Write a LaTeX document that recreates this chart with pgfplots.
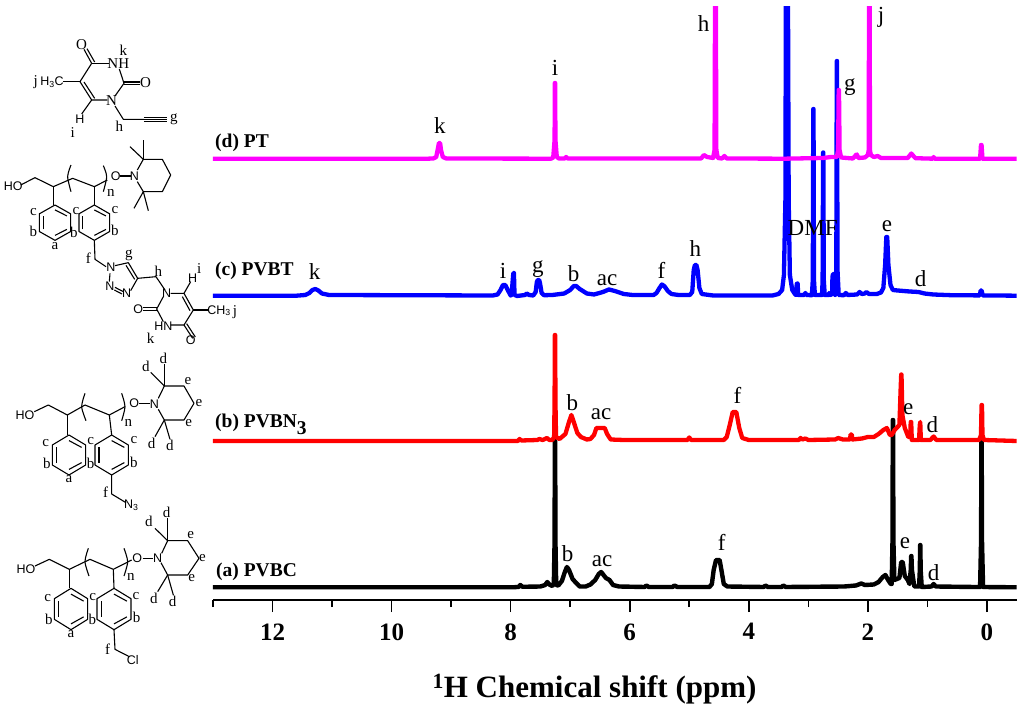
\documentclass[border=0pt]{standalone}
\usepackage{fontspec}
\setmainfont{Liberation Serif}
\newfontfamily\arial{Liberation Sans}
\usepackage{pgfplots}
\usepackage{pgfplotstable}
\pgfplotsset{compat=1.18}

\definecolor{specpink}{RGB}{255,0,255}
\definecolor{specblue}{RGB}{0,0,255}
\definecolor{specred}{RGB}{255,0,0}

% y values: height above the axis line, in picture units
\pgfplotstableread{
x y
13 12.7
7.95 12.7
7.86 13.2
7.84 15
7.80 13.2
7.5 13.5
7.42 15
7.385 18
7.35 15.5
7.30 14
7.275 16
7.262 60
7.258 159
7.252 159
7.248 60
7.235 15
7.20 14.5
7.14 19
7.09 28
7.055 33
7.02 30
6.96 21
6.90 17
6.84 13.5
6.74 13.5
6.66 15.5
6.58 20
6.52 26
6.48 28
6.44 25
6.40 22
6.34 20
6.28 15
6.18 13.5
5.75 13
5.72 14.5
5.68 13
5.28 13
5.25 14.5
5.2 13
4.66 13
4.62 16
4.59 30
4.55 40
4.49 40
4.46 30
4.42 16
4.36 13.5
3.75 13
3.72 14.5
3.68 13
3.45 13
3.42 14.5
3.38 13
2.4 13.5
2.2 14.5
2.11 16.5
2.05 15
1.9 15.5
1.82 18
1.75 23
1.705 25
1.66 20
1.615 16
1.6 16
1.586 60
1.581 180
1.576 180
1.571 60
1.555 20
1.47 22
1.44 38
1.415 38
1.38 24
1.33 20
1.3 16
1.28 30
1.272 44
1.268 44
1.26 30
1.22 13.5
1.14 13.5
1.127 30
1.122 55
1.118 55
1.113 30
1.095 13
0.93 13.5
0.895 16
0.86 13.5
0.2 13
0.115 13
0.098 60
0.093 159
0.088 159
0.083 60
0.065 13
-0.5 12.7
}\tblPVBC

\pgfplotstableread{
x y
13 159
7.88 159
7.85 161
7.82 159.5
7.55 160
7.52 161
7.46 160
7.39 162
7.35 160
7.30 160
7.27 163
7.262 200
7.258 265
7.252 265
7.248 200
7.238 163
7.18 161
7.08 166
7.02 178
6.98 185
6.94 178
6.88 167
6.82 163
6.72 160.5
6.66 161
6.60 165
6.56 172
6.50 172
6.42 172
6.38 166
6.32 160.5
6.1 160
5.03 160
5.0 162.5
4.97 160
4.42 160
4.37 163
4.32 175
4.27 188
4.21 188
4.16 172
4.11 162
4.0 160
3.16 160
3.13 162
3.10 160.5
3.05 161.5
3.0 160
2.55 160.5
2.5 162
2.42 160.5
2.3 160.5
2.29 165.5
2.27 165.5
2.26 160.5
2.1 161.5
2.0 163
1.9 163
1.82 166
1.74 170
1.68 172
1.63 165
1.6 165
1.55 170
1.47 175
1.45 210
1.44 225.5
1.435 225.5
1.42 185
1.38 172
1.32 163
1.29 163
1.28 178
1.272 178
1.262 160
1.14 160
1.128 175
1.12 178
1.11 160
0.95 160
0.895 163.5
0.85 160
0.13 160
0.1 165
0.09 195
0.083 195
0.075 165
0.05 160
-0.5 159
}\tblPVBN

\pgfplotstableread{
x y
13 304.3
11.6 304.3
11.45 305
11.38 307
11.33 310
11.28 311
11.23 309.5
11.17 306.5
11.05 305
8.3 304.5
8.22 305.5
8.17 310
8.13 315
8.09 315
8.05 310
8.0 304.5
7.985 305
7.965 320
7.955 327
7.945 327
7.935 305
7.89 304
7.76 305
7.73 306.5
7.69 305
7.62 304.5
7.58 308
7.56 318
7.545 320
7.52 320
7.505 316
7.48 307
7.44 304.8
7.30 305
7.1 306.5
7.0 310
6.94 314
6.9 314
6.84 311
6.72 306.5
6.6 305.5
6.45 308
6.35 310.5
6.25 309
6.1 306
5.95 305
5.6 305
5.55 307
5.5 312
5.46 315.5
5.42 314
5.36 309
5.3 306
5.18 305
4.99 305
4.95 308
4.925 330
4.905 335
4.88 335
4.86 330
4.83 312
4.79 306
4.6 304.5
3.6 304.5
3.5 306
3.44 310
3.41 325
3.385 400
3.375 660
3.345 660
3.33 400
3.31 325
3.27 310
3.22 305.5
3.205 305
3.195 316
3.188 316.5
3.18 316.5
3.17 305
3.07 305
3.05 307
3.03 305
2.94 304.8
2.925 320
2.917 491
2.913 491
2.905 320
2.89 305
2.77 305
2.76 320
2.752 447.5
2.748 447.5
2.74 320
2.725 305
2.66 305
2.65 307
2.63 305
2.6 306
2.595 323
2.585 326
2.57 326
2.55 305
2.53 330
2.522 539
2.518 539
2.51 330
2.49 305
2.4 304.8
2.37 307
2.34 305
2.18 305.5
2.14 308
2.1 306
2.05 306.5
2.025 308
1.98 306
1.85 306
1.78 307.5
1.74 312
1.71 335
1.69 363
1.675 363
1.655 335
1.62 315
1.58 310
1.5 309.5
1.3 308.5
1.15 308
1.05 306.5
0.9 305.5
0.6 304.8
0.12 304.6
0.105 309.5
0.09 309.5
0.07 304.6
-0.5 304.3
}\tblPVBT

\pgfplotstableread{
x y
13 441.3
9.4 441.3
9.3 441.5
9.25 443
9.22 452
9.205 457
9.185 457
9.17 450
9.14 443
9.08 441.5
7.32 441.3
7.285 442.5
7.262 460
7.258 517
7.252 517
7.248 460
7.225 443
7.19 441.5
7.09 441.5
7.07 443
7.04 441.5
4.80 441.5
4.755 445
4.70 443
4.60 442
4.575 450
4.565 640
4.555 640
4.545 450
4.52 442
4.45 441.5
4.41 444
4.37 441.5
3.4 441.3
2.75 442
2.62 443
2.52 443
2.5 450
2.49 510
2.485 510
2.475 450
2.45 442.5
2.25 441.5
2.2 445
2.185 445.5
2.16 442
2.05 442.5
2.0 445
1.985 450
1.98 640
1.97 640
1.965 450
1.95 445
1.9 443
1.835 444
1.78 442
1.33 442
1.29 445
1.27 446.5
1.25 445
1.2 441.8
0.91 441.3
0.895 443
0.88 441.3
0.115 441.3
0.1 455
0.09 455
0.075 441.3
-0.5 441.3
}\tblPT

% structure drawing helpers, in units of a third of a picture pixel
\pgfplotsset{bond/.style={black,line width=1.1pt,line join=round,no markers,forget plot}}
\newcommand{\bd}[1]{\addplot[bond] coordinates {#1};}
\newcommand{\paren}[1]{\addplot[bond,smooth] coordinates {#1};}
\newcommand{\ring}[4]{%
  \pgfmathsetmacro{\xl}{#1-#3}\pgfmathsetmacro{\xr}{#1+#3}%
  \pgfmathsetmacro{\yt}{#2-#4}\pgfmathsetmacro{\yb}{#2+#4}%
  \pgfmathsetmacro{\yu}{#2-#4/2}\pgfmathsetmacro{\yd}{#2+#4/2}%
  \addplot[bond] coordinates {(#1,\yt)(\xr,\yu)(\xr,\yd)(#1,\yb)(\xl,\yd)(\xl,\yu)(#1,\yt)};%
  \pgfmathsetmacro{\xli}{#1-0.76*#3}\pgfmathsetmacro{\xri}{#1+0.76*#3}%
  \pgfmathsetmacro{\yui}{#2-0.72*#4}\pgfmathsetmacro{\ydi}{#2+0.72*#4}%
  \pgfmathsetmacro{\yum}{#2-0.38*#4}\pgfmathsetmacro{\ydm}{#2+0.38*#4}%
  \addplot[bond] coordinates {(#1,\yui)(\xri,\yum)};%
  \addplot[bond] coordinates {(\xri,\ydm)(#1,\ydi)};%
  \addplot[bond] coordinates {(\xli,\ydm)(\xli,\yum)};}
\newcommand{\lb}[3]{\node[inner sep=0pt,font=\fontsize{15}{15}\selectfont] at (axis cs:#1,#2) {#3};}
\newcommand{\at}[3]{\node[inner sep=0pt,font=\arial\fontsize{12.5}{14}\selectfont] at (axis cs:#1,#2) {#3};}
\newcommand{\pk}[3]{\node[inner sep=0pt,anchor=base,font=\fontsize{23}{23}\selectfont] at (axis cs:#1,#2) {#3};}
\newcommand{\name}[3]{\node[inner sep=0pt,anchor=base west,font=\bfseries\fontsize{19.5}{20}\selectfont] at (axis cs:#1,#2) {#3};}

\begin{document}
\begin{tikzpicture}
\path[use as bounding box] (-213pt,-111pt) rectangle (811pt,600pt);
\begin{axis}[
  at={(0pt,0pt)},anchor=south west,
  scale only axis,width=803.7pt,height=593pt,
  xmin=-0.5,xmax=13,ymin=0,ymax=593,
  x dir=reverse,
  axis x line*=bottom,axis y line=none,
  axis line style={line width=1.7pt},
  xtick={0,2,...,12},minor xtick={1,3,...,13},
  tick style={black,line width=1.6pt},
  major tick length=12pt,minor tick length=7pt,
  tick align=outside,
  tick label style={font=\bfseries\fontsize{25}{25}\selectfont},
  /pgf/number format/assume math mode=true,
  xticklabel style={yshift=-8pt},
  xlabel={\textsuperscript{1}H Chemical shift (ppm)},
  xlabel style={font=\bfseries\fontsize{31}{31}\selectfont,
    at={(axis description cs:0.4747,-0.1185)},anchor=north},
  no markers,
  every axis plot/.append style={line join=round,line cap=round},
]
\addplot[black,line width=4.4pt] table {\tblPVBC};
\addplot[specred,line width=4.3pt] table {\tblPVBN};
\addplot[specblue,line width=4.3pt] table {\tblPVBT};
\addplot[specpink,line width=4.3pt] table {\tblPT};
\end{axis}

\begin{axis}[
  at={(-213pt,-111pt)},anchor=south west,
  scale only axis,width=1024pt,height=711pt,
  xmin=0,xmax=3072,ymin=0,ymax=2133,y dir=reverse,
  hide axis,clip=false,
]
% series names
\name{645}{442}{(d) PT}
\name{645}{826}{(c) PVBT}
\name{645}{1283}{(b) PVBN\raisebox{-7pt}{3}}
\name{648}{1728}{(a) PVBC}
% peak assignments
\pk{1320}{402}{k}
\pk{1665}{228}{i}
\pk{2111}{95}{h}
\pk{2643}{67}{j}
\pk{2550}{272}{g}
\pk{944}{838}{k}
\pk{1509}{835}{i}
\pk{1614}{818}{g}
\pk{1721}{843}{b}
\pk{1821}{855}{ac}
\pk{1984}{835}{f}
\pk{2086}{768}{h}
\pk{2438}{706}{DMF}
\pk{2661}{693}{e}
\pk{2762}{858}{d}
\pk{1717}{1230}{b}
\pk{1803}{1258}{ac}
\pk{2212}{1210}{f}
\pk{2725}{1242}{e}
\pk{2797}{1298}{d}
\pk{1703}{1685}{b}
\pk{1806}{1700}{ac}
\pk{2165}{1652}{f}
\pk{2715}{1645}{e}
\pk{2801}{1740}{d}

% thymine (d)
\bd{(275,190)(328,190)}
\bd{(275,190)(240,245)(275,300)(322,300)}
\bd{(284,295)(252,246)}
\bd{(275,190)(252,148)}
\bd{(284,186)(261,146)}
\bd{(358,207)(372,250)(345,288)}
\bd{(372,246)(420,246)}
\bd{(372,254)(420,254)}
\bd{(240,245)(190,245)}
\bd{(275,300)(245,342)}
\bd{(345,318)(370,358)(432,358)}
\bd{(432,352)(500,352)}
\bd{(432,358)(500,358)}
\bd{(432,364)(500,364)}
\lb{245}{133}{O}\lb{437}{248}{O}\lb{355}{190}{NH}\lb{335}{303}{N}
\at{156}{247}{H\textsubscript{3}C}\lb{107}{245}{j}\at{240}{358}{H}
\lb{218}{397}{i}\lb{358}{380}{h}\lb{370}{150}{k}\lb{522}{358}{g}

% PVBT (c)
\bd{(62,555)(105,533)(160,560)(218,535)(283,560)(322,540)}
\paren{(213,495)(203,530)(213,575)}
\paren{(310,497)(320,530)(310,575)}
\bd{(360,528)(392,528)}
\bd{(412,510)(430,478)(487,478)(512,525)(487,575)(430,575)(412,545)}
\bd{(430,478)(390,440)}\bd{(430,478)(430,420)}
\bd{(430,575)(402,625)}\bd{(430,575)(445,632)}
\bd{(160,560)(160,615)}\ring{165}{668}{47}{53}
\bd{(283,560)(283,615)}\ring{283}{668}{46}{53}
\bd{(283,721)(285,778)(318,800)}
\bd{(345,797)(385,788)(413,835)(392,872)}
\bd{(378,796)(404,838)}
\bd{(330,820)(328,845)}
\bd{(345,862)(370,875)}\bd{(343,870)(366,882)}
\bd{(413,835)(468,830)(495,870)}
\bd{(512,880)(552,880)(580,930)(552,975)(512,975)}
\bd{(547,890)(570,932)}
\bd{(552,880)(572,845)}
\bd{(580,930)(625,930)}
\bd{(552,975)(578,1015)}\bd{(560,971)(586,1011)}
\bd{(490,965)(470,927)(490,890)}
\bd{(470,923)(430,923)}\bd{(470,931)(430,931)}
\at{40}{560}{HO}
\lb{333}{578}{n}\at{347}{528}{O}\at{403}{528}{N}
\lb{100}{635}{c}\lb{100}{695}{b}\lb{165}{738}{a}\lb{222}{698}{b}
\lb{228}{632}{c}\lb{345}{630}{c}\lb{345}{692}{b}\lb{265}{775}{f}
\at{333}{803}{N}\at{330}{860}{N}\at{380}{880}{N}
\lb{387}{765}{g}\lb{475}{815}{h}\at{500}{880}{N}
\at{578}{835}{H}\lb{598}{805}{i}
\at{657}{932}{CH\textsubscript{3}}\lb{705}{935}{j}
\at{490}{978}{HN}\lb{452}{1014}{k}\at{415}{928}{O}\at{572}{1022}{O}

% PVBN3 (b)
\bd{(103,1235)(145,1215)(202,1245)(255,1215)(328,1245)(375,1220)}
\paren{(255,1180)(245,1220)(258,1262)}
\paren{(365,1180)(375,1220)(365,1262)}
\bd{(418,1210)(450,1210)}
\bd{(475,1195)(493,1158)(552,1158)(582,1210)(552,1260)(493,1260)(475,1228)}
\bd{(493,1158)(452,1117)}\bd{(493,1158)(493,1092)}
\bd{(493,1260)(465,1310)}\bd{(493,1260)(510,1318)}
\bd{(202,1245)(202,1305)}\ring{207}{1365}{50}{60}
\bd{(328,1245)(335,1305)}\ring{335}{1365}{50}{60}
\bd{(335,1425)(335,1482)(378,1508)}
\at{75}{1245}{HO}
\lb{385}{1268}{n}\at{403}{1210}{O}\at{463}{1212}{N}
\lb{438}{1100}{d}\lb{490}{1075}{d}\lb{455}{1330}{d}\lb{510}{1337}{d}
\lb{564}{1142}{e}\lb{597}{1210}{e}\lb{566}{1270}{e}
\lb{137}{1328}{c}\lb{141}{1390}{b}\lb{207}{1438}{a}\lb{272}{1390}{b}
\lb{272}{1323}{c}\lb{402}{1320}{c}\lb{402}{1387}{b}
\lb{317}{1478}{f}\at{394}{1515}{N\textsubscript{3}}

% PVBC (a)
\bd{(105,1698)(148,1678)(208,1708)(270,1678)(340,1708)(395,1680)}
\paren{(265,1645)(255,1685)(267,1728)}
\paren{(372,1645)(383,1685)(372,1728)}
\bd{(428,1675)(460,1675)}
\bd{(485,1660)(503,1622)(563,1622)(597,1675)(563,1725)(503,1725)(483,1688)}
\bd{(503,1622)(465,1585)}\bd{(503,1622)(503,1555)}
\bd{(503,1725)(473,1775)}\bd{(503,1725)(520,1785)}
\bd{(208,1708)(208,1765)}\ring{213}{1827}{50}{62}
\bd{(340,1708)(342,1765)}\ring{342}{1827}{51}{62}
\bd{(342,1889)(345,1948)(388,1970)}
\at{78}{1708}{HO}
\lb{393}{1730}{n}\at{412}{1675}{O}\at{473}{1675}{N}
\lb{447}{1565}{d}\lb{500}{1538}{d}\lb{462}{1795}{d}\lb{518}{1803}{d}
\lb{572}{1605}{e}\lb{607}{1673}{e}\lb{575}{1733}{e}
\lb{143}{1793}{c}\lb{147}{1858}{b}\lb{213}{1903}{a}\lb{277}{1858}{b}
\lb{278}{1790}{c}\lb{408}{1788}{c}\lb{410}{1852}{b}
\lb{323}{1948}{f}\at{398}{1980}{Cl}
\end{axis}
\end{tikzpicture}
\end{document}
